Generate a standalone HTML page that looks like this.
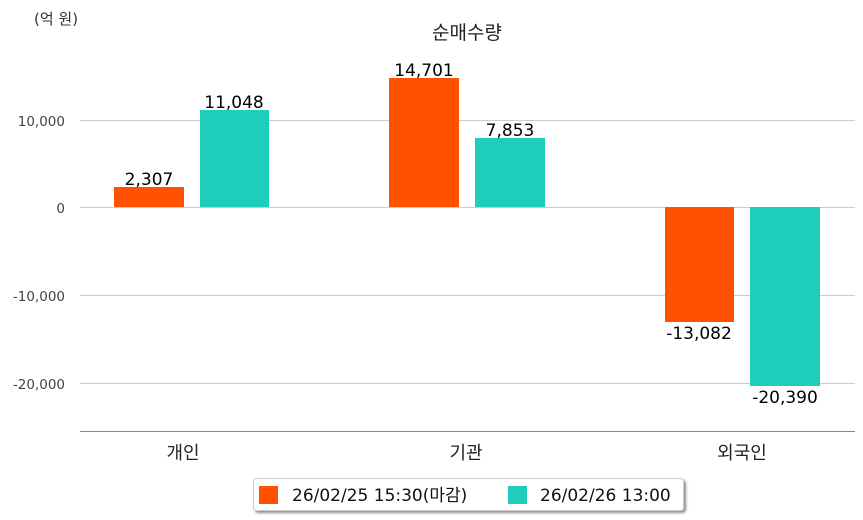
<!DOCTYPE html><html><head><meta charset="utf-8"><style>html,body{margin:0;background:#fff}svg{display:block}text{font-family:"DejaVu Sans","Noto Sans CJK KR",sans-serif}</style></head><body>
<svg width="863" height="520" xmlns="http://www.w3.org/2000/svg">
<defs><filter id="sh" x="-5%" y="-20%" width="115%" height="160%"><feDropShadow dx="2" dy="2" stdDeviation="1.2" flood-color="#000" flood-opacity="0.45"/></filter></defs>
<text x="34" y="24" font-size="15" fill="#333">(억 원)</text>
<text x="467" y="39" font-size="19" fill="#222" text-anchor="middle">순매수량</text>
<g stroke="#ccc" stroke-width="1">
<line x1="80" y1="120.5" x2="855" y2="120.5"/><line x1="80" y1="207.5" x2="855" y2="207.5"/><line x1="80" y1="295.5" x2="855" y2="295.5"/><line x1="80" y1="383.5" x2="855" y2="383.5"/></g>
<line x1="80" y1="431.5" x2="855" y2="431.5" stroke="#888"/>
<g font-size="13.5" fill="#444" text-anchor="end"><text x="65" y="126">10,000</text><text x="65" y="213">0</text><text x="65" y="301">-10,000</text><text x="65" y="389">-20,000</text></g>
<g fill="#ff5100"><rect x="114" y="187" width="70" height="20"/><rect x="389" y="78" width="70" height="129"/><rect x="665" y="207" width="69" height="115"/></g>
<g fill="#1ecdbc"><rect x="200" y="110" width="69" height="97"/><rect x="475" y="138" width="70" height="69"/><rect x="750" y="207" width="70" height="179"/></g>
<g font-size="17" fill="#000" text-anchor="middle"><text x="149" y="185">2,307</text><text x="234" y="108">11,048</text><text x="424" y="76">14,701</text><text x="510" y="136">7,853</text><text x="699" y="339">-13,082</text><text x="785" y="403">-20,390</text></g>
<g font-size="18" fill="#222" text-anchor="middle"><text x="183" y="459">개인</text><text x="466" y="459">기관</text><text x="742" y="459">외국인</text></g>
<rect x="253.5" y="478.5" width="430" height="32" rx="3" fill="#fff" stroke="#ccc" filter="url(#sh)"/>
<rect x="259" y="486" width="19" height="18" fill="#ff5100"/><text x="292" y="501" font-size="17" fill="#111">26/02/25 15:30(마감)</text>
<rect x="508" y="486" width="19" height="18" fill="#1ecdbc"/><text x="540" y="501" font-size="17" fill="#111">26/02/26 13:00</text>
</svg></body></html>
